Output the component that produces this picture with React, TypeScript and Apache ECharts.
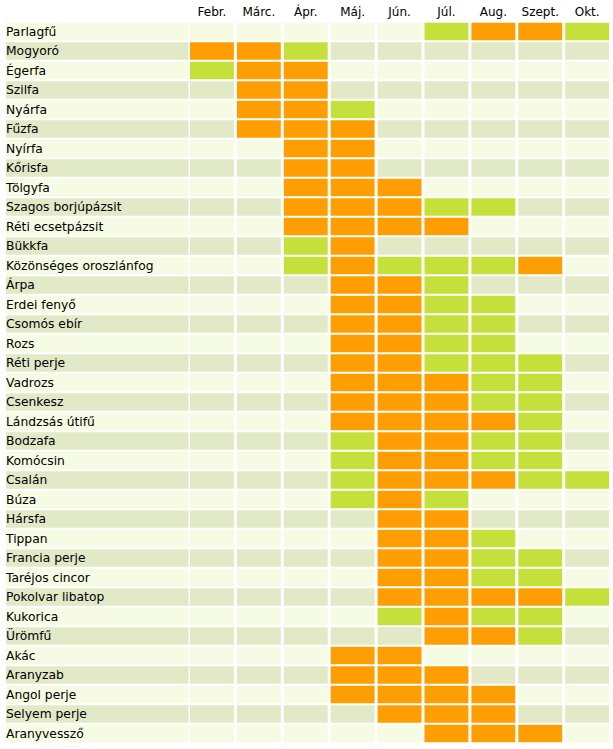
import React, { useEffect, useRef } from "react";
import * as echarts from "echarts";

const months = ["Febr.", "Márc.", "Ápr.", "Máj.", "Jún.", "Júl.", "Aug.", "Szept.", "Okt."];

const plants = [
  "Parlagfű", "Mogyoró", "Égerfa", "Szilfa", "Nyárfa", "Fűzfa", "Nyírfa", "Kőrisfa", "Tölgyfa",
  "Szagos borjúpázsit", "Réti ecsetpázsit", "Bükkfa", "Közönséges oroszlánfog", "Árpa",
  "Erdei fenyő", "Csomós ebír", "Rozs", "Réti perje", "Vadrozs", "Csenkesz", "Lándzsás útifű",
  "Bodzafa", "Komócsin", "Csalán", "Búza", "Hársfa", "Tippan", "Francia perje", "Taréjos cincor",
  "Pokolvar libatop", "Kukorica", "Ürömfű", "Akác", "Aranyzab", "Angol perje", "Selyem perje",
  "Aranyvessző",
];

// 0 = none, 1 = moderate (green), 2 = strong (orange); columns follow months
const levels: number[][] = [
  [0, 0, 0, 0, 0, 1, 2, 2, 1],
  [2, 2, 1, 0, 0, 0, 0, 0, 0],
  [1, 2, 2, 0, 0, 0, 0, 0, 0],
  [0, 2, 2, 0, 0, 0, 0, 0, 0],
  [0, 2, 2, 1, 0, 0, 0, 0, 0],
  [0, 2, 2, 2, 0, 0, 0, 0, 0],
  [0, 0, 2, 2, 0, 0, 0, 0, 0],
  [0, 0, 2, 2, 0, 0, 0, 0, 0],
  [0, 0, 2, 2, 2, 0, 0, 0, 0],
  [0, 0, 2, 2, 2, 1, 1, 0, 0],
  [0, 0, 2, 2, 2, 2, 0, 0, 0],
  [0, 0, 1, 2, 0, 0, 0, 0, 0],
  [0, 0, 1, 2, 1, 1, 1, 2, 0],
  [0, 0, 0, 2, 2, 1, 0, 0, 0],
  [0, 0, 0, 2, 2, 1, 1, 0, 0],
  [0, 0, 0, 2, 2, 1, 1, 0, 0],
  [0, 0, 0, 2, 2, 1, 1, 0, 0],
  [0, 0, 0, 2, 2, 1, 1, 1, 0],
  [0, 0, 0, 2, 2, 2, 1, 1, 0],
  [0, 0, 0, 2, 2, 2, 1, 1, 0],
  [0, 0, 0, 2, 2, 2, 2, 1, 0],
  [0, 0, 0, 1, 2, 2, 1, 1, 0],
  [0, 0, 0, 1, 2, 2, 1, 1, 0],
  [0, 0, 0, 1, 2, 2, 2, 1, 1],
  [0, 0, 0, 1, 2, 1, 0, 0, 0],
  [0, 0, 0, 0, 2, 2, 0, 0, 0],
  [0, 0, 0, 0, 2, 2, 1, 0, 0],
  [0, 0, 0, 0, 2, 2, 1, 1, 0],
  [0, 0, 0, 0, 2, 2, 1, 1, 0],
  [0, 0, 0, 0, 2, 2, 2, 2, 1],
  [0, 0, 0, 0, 1, 2, 1, 1, 0],
  [0, 0, 0, 0, 0, 2, 2, 1, 0],
  [0, 0, 0, 2, 2, 0, 0, 0, 0],
  [0, 0, 0, 2, 2, 2, 0, 0, 0],
  [0, 0, 0, 2, 2, 2, 2, 0, 0],
  [0, 0, 0, 0, 2, 2, 2, 0, 0],
  [0, 0, 0, 0, 0, 2, 2, 2, 0],
];

const LIGHT = "#f6fbe3";
const DARK = "#e2e9c7";
const GREEN = "#c6e03b";
const ORANGE = "#ff9e02";
const FONT = "DejaVu Sans";

export default function App() {
  const ref = useRef<HTMLDivElement>(null);
  useEffect(() => {
    if (!ref.current) return;
    const chart = echarts.init(ref.current, null, { renderer: "svg" });
    const rowBg = (r: number) => (r % 2 === 0 ? LIGHT : DARK);

    const cellData: number[][] = [];
    levels.forEach((row, r) => row.forEach((v, c) => cellData.push([c, r, v])));
    const labelData = plants.map((_, r) => [0, r]);

    const top = 21.7;
    const height = 19.5 * plants.length;

    chart.setOption({
      animation: false,
      backgroundColor: "#ffffff",
      grid: [
        { left: 6, top, width: 182.5, height },
        { left: 188.5, top, width: 422.1, height },
      ],
      xAxis: [
        { type: "category", gridIndex: 0, data: [""], show: false },
        {
          type: "category",
          gridIndex: 1,
          data: months,
          position: "top",
          axisLine: { show: false },
          axisTick: { show: false },
          splitLine: { show: false },
          axisLabel: {
            color: "#000",
            fontFamily: FONT,
            fontSize: 12,
            margin: 4,
            interval: 0,
            hideOverlap: false,
          },
        },
      ],
      yAxis: [
        { type: "category", gridIndex: 0, data: plants, inverse: true, show: false },
        { type: "category", gridIndex: 1, data: plants, inverse: true, show: false },
      ],
      series: [
        {
          type: "custom",
          xAxisIndex: 0,
          yAxisIndex: 0,
          data: labelData,
          renderItem: (params: any, api: any) => {
            const r = api.value(1);
            const c = api.coord([api.value(0), r]);
            const s = api.size([1, 1]);
            const x0 = c[0] - s[0] / 2;
            const y0 = c[1] - s[1] / 2;
            return {
              type: "group",
              children: [
                {
                  type: "rect",
                  shape: { x: x0, y: y0 + 1, width: s[0], height: s[1] - 2 },
                  style: { fill: rowBg(r) },
                },
                {
                  type: "text",
                  style: {
                    text: plants[r],
                    x: x0,
                    y: c[1] + 0.5,
                    align: "left",
                    verticalAlign: "middle",
                    fill: "#000",
                    fontFamily: FONT,
                    fontSize: 12.3,
                  },
                },
              ],
            };
          },
        },
        {
          type: "custom",
          xAxisIndex: 1,
          yAxisIndex: 1,
          data: cellData,
          renderItem: (params: any, api: any) => {
            const r = api.value(1);
            const v = api.value(2);
            const c = api.coord([api.value(0), r]);
            const s = api.size([1, 1]);
            const fill = v === 2 ? ORANGE : v === 1 ? GREEN : rowBg(r);
            return {
              type: "rect",
              shape: {
                x: c[0] - s[0] / 2 + 1.5,
                y: c[1] - s[1] / 2 + 1,
                width: s[0] - 3,
                height: s[1] - 2,
              },
              style: { fill },
            };
          },
        },
      ],
    });
    return () => chart.dispose();
  }, []);
  return (
    <div
      ref={ref}
      style={{ position: "fixed", left: 0, top: 0, width: 613, height: 749, background: "#fff" }}
    />
  );
}
